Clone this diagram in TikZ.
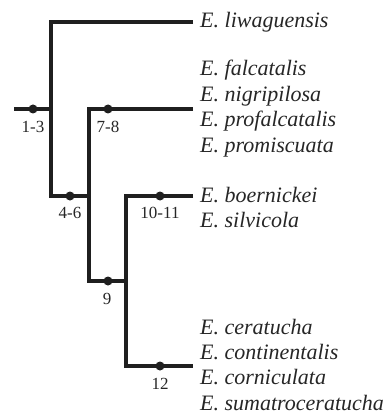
\documentclass[tikz,border=0pt]{standalone}
\usepackage{fontspec}
\setmainfont{Liberation Serif}
\begin{document}
\begin{tikzpicture}[x=1pt,y=-1pt,
  branch/.style={line width=3.2pt, draw=black!88, line join=miter},
  dot/.style={circle, fill=black!88, inner sep=0pt, minimum size=9pt},
  num/.style={font=\fontsize{17}{17}\selectfont, anchor=base, inner sep=0pt, text=black!85},
  taxon/.style={font=\fontsize{22}{22}\selectfont\itshape, anchor=base west, inner sep=0pt, text=black!85}]
\useasboundingbox (0,0) rectangle (391,414);
% coordinates
\coordinate (r0) at (14,109);
\coordinate (n1) at (51,109);
\coordinate (t1) at (51,22);
\coordinate (b1) at (51,196);
\coordinate (e1) at (193,22);
\coordinate (n2) at (89,196);
\coordinate (t2) at (89,109);
\coordinate (b2) at (89,281);
\coordinate (e2) at (193,109);
\coordinate (n3) at (126,281);
\coordinate (t3) at (126,196);
\coordinate (b3) at (126,366);
\coordinate (e3) at (193,196);
\coordinate (e4) at (193,366);
% branches
\draw[branch] (r0) -- (n1);
\draw[branch] (e1) -- (t1) -- (b1) -- (n2);
\draw[branch] (e2) -- (t2) -- (b2) -- (n3);
\draw[branch] (e3) -- (t3) -- (b3) -- (e4);
% dots
\node[dot] (d13) at (33,109) {};
\node[dot] (d46) at (70,196) {};
\node[dot] (d78) at (108,109) {};
\node[dot] (d9) at (108,281) {};
\node[dot] (d1011) at (160,196) {};
\node[dot] (d12) at (160,366) {};
% numbers
\node[num] (l13) at (33,132) {1-3};
\node[num] (l46) at (70,218) {4-6};
\node[num] (l78) at (108,132) {7-8};
\node[num] (l9) at (107,304) {9};
\node[num] (l1011) at (160,218) {10-11};
\node[num] (l12) at (160,389) {12};
% taxa
\node[taxon] (s1) at (200,28) {E. liwaguensis};
\node[taxon] (s2) at (200,76) {E. falcatalis};
\node[taxon] (s3) at (200,101.3) {E. nigripilosa};
\node[taxon] (s4) at (200,126.6) {E. profalcatalis};
\node[taxon] (s5) at (200,152) {E. promiscuata};
\node[taxon] (s6) at (200,202) {E. boernickei};
\node[taxon] (s7) at (200,227.3) {E. silvicola};
\node[taxon] (s8) at (200,334) {E. ceratucha};
\node[taxon] (s9) at (200,359.3) {E. continentalis};
\node[taxon] (s10) at (200,384.6) {E. corniculata};
\node[taxon] (s11) at (200,410) {E. sumatroceratucha};
\end{tikzpicture}
\end{document}
